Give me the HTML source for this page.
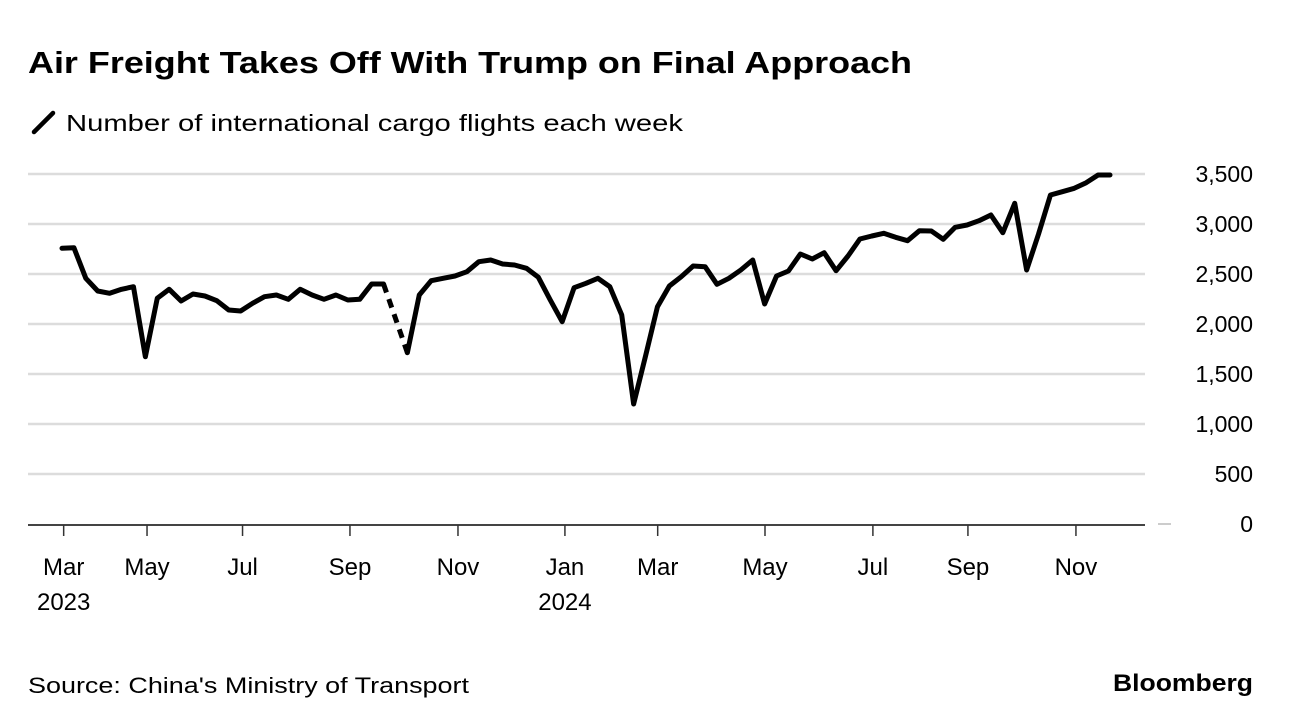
<!DOCTYPE html>
<html><head><meta charset="utf-8"><style>
html,body{margin:0;padding:0;background:#fff;}
svg{display:block;font-family:"Liberation Sans",Arial,sans-serif;}
</style></head><body>
<svg id="chart" width="1292" height="726" viewBox="0 0 1292 726" xmlns="http://www.w3.org/2000/svg">
<text x="28" y="73" font-size="31" font-weight="bold" fill="#000" textLength="884" lengthAdjust="spacingAndGlyphs">Air Freight Takes Off With Trump on Final Approach</text>
<line x1="34" y1="132" x2="53" y2="113" stroke="#000" stroke-width="4.5" stroke-linecap="round"/>
<text x="66" y="131" font-size="23" fill="#000" textLength="617" lengthAdjust="spacingAndGlyphs">Number of international cargo flights each week</text>
<g id="grid"></g><g id="xaxis"></g><g id="yaxis"></g><g id="series"></g>
<text x="28" y="693" font-size="22" fill="#000" textLength="441" lengthAdjust="spacingAndGlyphs">Source: China's Ministry of Transport</text>
<text x="1253" y="691" font-size="24" font-weight="bold" fill="#000" text-anchor="end" textLength="140" lengthAdjust="spacingAndGlyphs">Bloomberg</text>
</svg>
<script>
const values = [2757,2763,2457,2330,2307,2347,2373,1673,2257,2347,2230,2300,2280,2233,2140,2130,2207,2273,2290,2247,2347,2290,2247,2290,2240,2247,2400,2400,null,1713,2290,2433,2457,2480,2523,2623,2640,2600,2590,2557,2467,2240,2023,2363,2407,2457,2373,2090,1200,1680,2173,2380,2473,2580,2573,2397,2457,2540,2640,2200,2480,2530,2700,2650,2713,2533,2680,2850,2880,2907,2867,2833,2933,2930,2847,2967,2990,3033,3090,2913,3207,2540,2900,3290,3323,3357,3413,3490,3490];
const yTicks = [0,500,1000,1500,2000,2500,3000,3500];
const yTickLabels = ["0","500","1,000","1,500","2,000","2,500","3,000","3,500"];
const xTickIdx = [0.14,7.14,15.16,24.18,33.25,42.23,50.02,59.03,68.09,76.07,85.14];
const xTickLabels = ["Mar","May","Jul","Sep","Nov","Jan","Mar","May","Jul","Sep","Nov"];
const xTickYears = ["2023","","","","","2024","","","","",""];

const NS="http://www.w3.org/2000/svg";
const X0=62, X1=1110, Y0=524, YSCALE=0.1, LEFT=28, RIGHT=1145;
const XSTEP=(X1-X0)/(values.length-1);
const xs=i=>X0+i*XSTEP;
const ys=v=>Y0-v*YSCALE;
function mk(tag,attrs,parent,txt){const e=document.createElementNS(NS,tag);for(const k in attrs)e.setAttribute(k,attrs[k]);if(txt!==undefined)e.textContent=txt;parent.appendChild(e);return e;}
const grid=document.getElementById('grid'),xa=document.getElementById('xaxis'),ya=document.getElementById('yaxis'),ser=document.getElementById('series');
yTicks.forEach((t,i)=>{
  if(t>0){const g=mk('line',{x1:LEFT,x2:RIGHT,y1:ys(t),y2:ys(t),stroke:'#dcdcdc','stroke-width':2.5},grid);
  
  }
  const l=mk('text',{x:1253,y:ys(t)+8,'font-size':23,'text-anchor':'end',fill:'#000'},ya,yTickLabels[i]);
  
  
});
const dash=mk('line',{x1:1158,x2:1171,y1:Y0,y2:Y0,stroke:'#ccc','stroke-width':2},ya);


const ax=mk('line',{x1:LEFT,x2:RIGHT,y1:Y0+1,y2:Y0+1,stroke:'#444','stroke-width':2},xa);


xTickIdx.forEach((t,i)=>{
  const x=xs(t);
  const tk=mk('line',{x1:x,x2:x,y1:Y0+1,y2:Y0+12,stroke:'#333','stroke-width':1.5},xa);
  
  
  const l=mk('text',{x:x,y:575,'font-size':24,'text-anchor':'middle',fill:'#000'},xa,xTickLabels[i]);
  
  
  if(xTickYears[i]){const yl=mk('text',{x:x,y:610,'font-size':24,'text-anchor':'middle',fill:'#000'},xa,xTickYears[i]);
  
  }
});
let segs=[],cur=[];
values.forEach((v,i)=>{if(v===null){if(cur.length)segs.push(cur);cur=[];}else cur.push([xs(i),ys(v)]);});
if(cur.length)segs.push(cur);
segs.forEach(s=>{
  const p=mk('polyline',{points:s.map(q=>q.join(',')).join(' '),fill:'none',stroke:'#000','stroke-width':5,'stroke-linejoin':'round','stroke-linecap':'round'},ser);
  
  
});
for(let k=0;k<segs.length-1;k++){
  const a=segs[k][segs[k].length-1],b=segs[k+1][0];
  const d=mk('line',{x1:a[0],y1:a[1],x2:b[0],y2:b[1],stroke:'#000','stroke-width':5,'stroke-dasharray':'9 7'},ser);
  
  
}
</script>
</body></html>
